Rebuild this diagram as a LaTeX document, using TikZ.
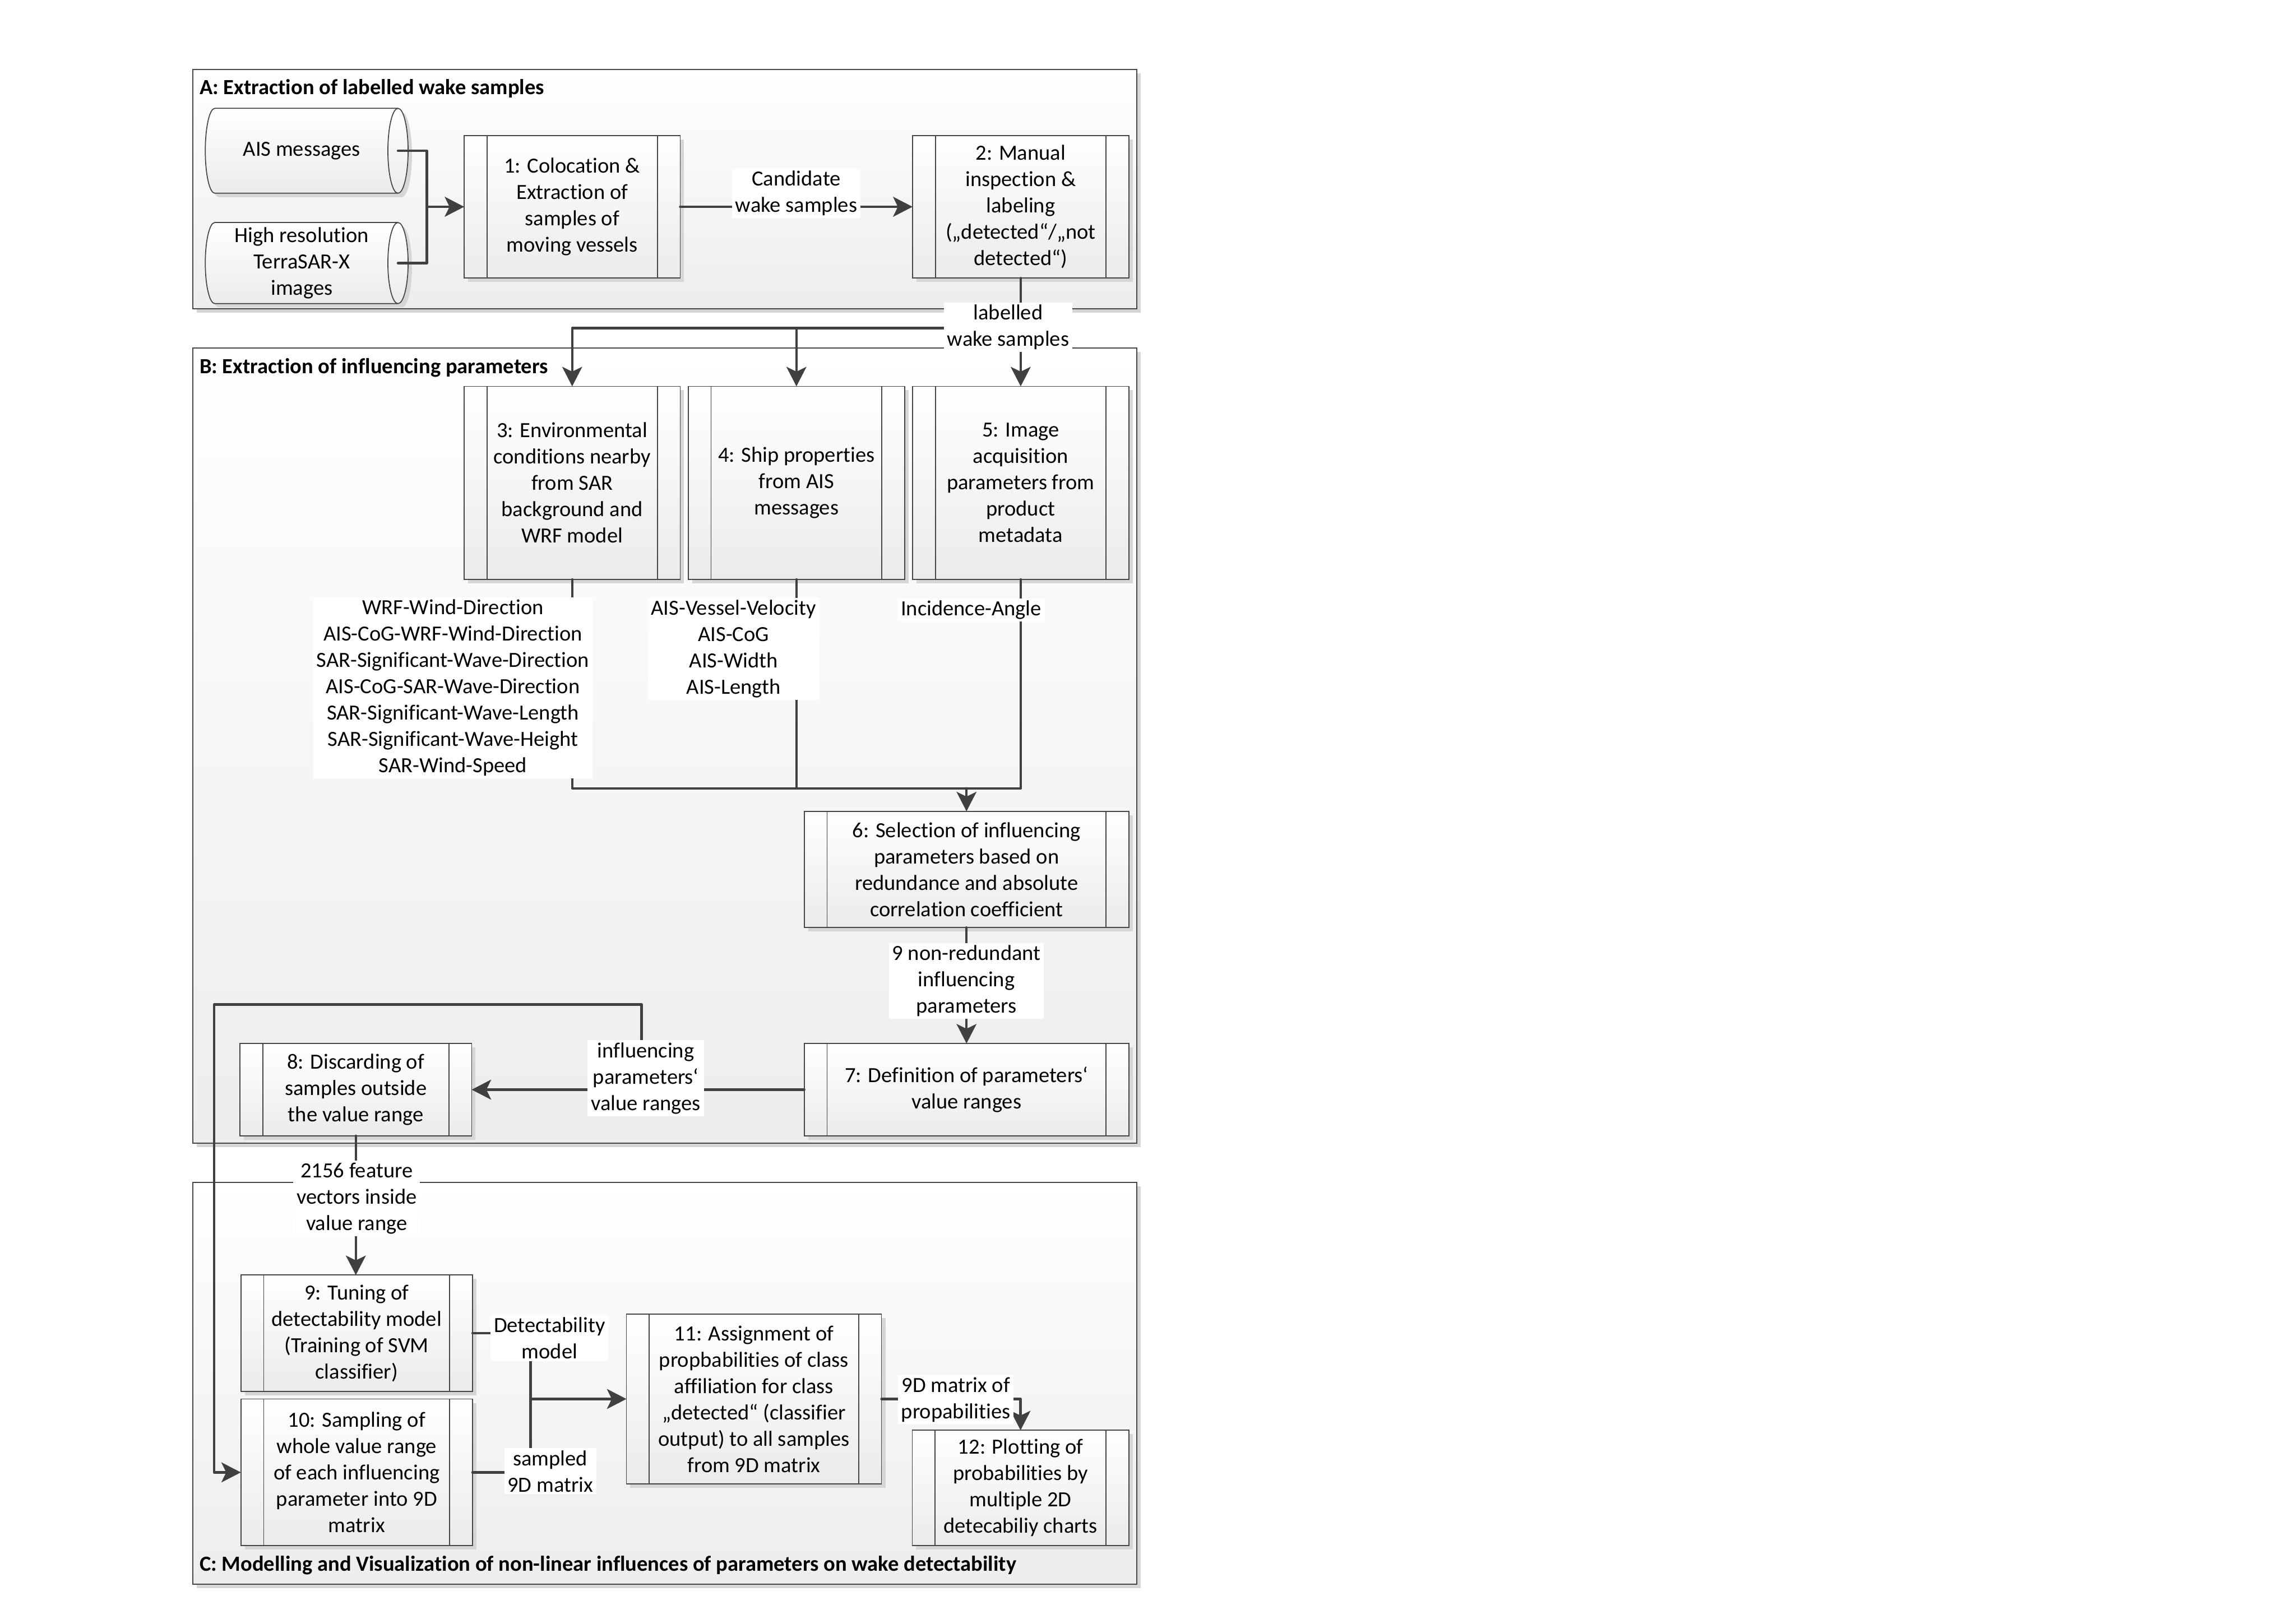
\documentclass[tikz,border=0pt]{standalone}
\usepackage{fontspec}
\setmainfont{Carlito}[Ligatures=NoCommon]
\usetikzlibrary{arrows.meta,shadows}
\definecolor{lineC}{HTML}{404040}
\definecolor{boxline}{HTML}{454545}
\definecolor{boxbot}{HTML}{EBEBEB}
\definecolor{secbot}{HTML}{EDEDED}
\definecolor{shadowC}{HTML}{D6D6D6}
\newcommand\pxu{0.678pt}
\begin{document}
\begin{tikzpicture}[x=0.678pt,y=-0.678pt,
  txt/.style={font=\fontsize{10}{12.2}\selectfont, align=center, inner sep=0pt, outer sep=0pt},
  title/.style={font=\bfseries\fontsize{10}{12.2}\selectfont, inner sep=0pt, anchor=base west},
  wh/.style 2 args={minimum width=#1*\pxu, minimum height=#2*\pxu},
  shad/.style={drop shadow={shadow xshift=1.8pt, shadow yshift=-1.8pt, fill=shadowC, opacity=1}},
  sect/.style={shad, draw=boxline, line width=0.5pt, top color=white, bottom color=secbot, inner sep=0pt, outer sep=0pt},
  proc/.style={txt, shad, draw=boxline, line width=0.45pt, top color=white, bottom color=boxbot,
    path picture={\draw[boxline, line width=0.45pt]
      ([xshift=10.58pt]path picture bounding box.north west) -- ([xshift=10.58pt]path picture bounding box.south west)
      ([xshift=-10.58pt]path picture bounding box.north east) -- ([xshift=-10.58pt]path picture bounding box.south east);}},
  cyl/.style={shad, draw=boxline, line width=0.45pt, top color=white, bottom color=boxbot},
  conn/.style={draw=lineC, line width=1.15pt, line cap=round, line join=round},
  arr/.style={conn, -{Stealth[length=9pt, width=9.2pt, inset=2.2pt]}},
  lab/.style={txt, fill=white, inner xsep=1.5pt, inner ysep=1pt}
]
\fill[white] (0,0) rectangle (1568,1109);
\useasboundingbox (0,0) rectangle (1568,1109);

% sections
\node[sect, wh={644.5}{163.4}] (secA) at (454.05,129.3) {};
\node[sect, wh={644.5}{543.4}] (secB) at (454.05,509.3) {};
\node[sect, wh={644.5}{274.5}] (secC) at (454.05,945.05) {};
\node[title] (tA) at (136,64.5) {A: Extraction of labelled wake samples};
\node[title] (tB) at (136,255) {B: Extraction of influencing parameters};
\node[title] (tC) at (136,1073.3) {C: Modelling and Visualization of non-linear influences of parameters on wake detectability};

% cylinders
\path[cyl] (146.7,74) -- (271.8,74) arc[start angle=-90,end angle=90,x radius=6.9,y radius=29]
  -- (146.7,132) arc[start angle=90,end angle=270,x radius=6.5,y radius=29] -- cycle;
\draw[boxline, line width=0.45pt] (271.8,132) arc[start angle=90,end angle=270,x radius=6.9,y radius=29];
\path[cyl] (146.7,152) -- (271.8,152) arc[start angle=-90,end angle=90,x radius=6.9,y radius=27.7]
  -- (146.7,207.4) arc[start angle=90,end angle=270,x radius=6.5,y radius=27.7] -- cycle;
\draw[boxline, line width=0.45pt] (271.8,207.4) arc[start angle=90,end angle=270,x radius=6.9,y radius=27.7];
\node[txt, wh={131.5}{58}] (cylA) at (206.05,103) {AIS messages};
\node[txt, wh={131.5}{55.4}] (cylB) at (206.05,179.7) {High resolution\\TerraSAR-X\\images};

% process boxes
\node[proc, wh={147.5}{97.5}] (b1) at (390.75,141.25) {1: Colocation \&\\Extraction of\\samples of\\moving vessels};
\node[proc, wh={147.7}{97.5}] (b2) at (697.05,141.25) {2: Manual\\inspection \&\\labeling\\(„detected“/„not\\detected“)};
\node[proc, wh={147.5}{131.9}] (b3) at (390.75,329.85) {3: Environmental\\conditions nearby\\from SAR\\background and\\WRF model};
\node[proc, wh={147.8}{131.9}] (b4) at (543.9,329.85) {4: Ship properties\\from AIS\\messages};
\node[proc, wh={147.7}{131.9}] (b5) at (697.05,329.85) {5: Image\\acquisition\\parameters from\\product\\metadata};
\node[proc, wh={221.7}{79.4}] (b6) at (660.05,593.9) {6: Selection of influencing\\parameters based on\\redundance and absolute\\correlation coefficient};
\node[proc, wh={221.7}{63.1}] (b7) at (660.05,744.35) {7: Definition of parameters‘\\value ranges};
\node[proc, wh={158.2}{63.1}] (b8) at (243,744.35) {8: Discarding of\\samples outside\\the value range};
\node[proc, wh={158.2}{79.4}] (b9) at (243.6,910.7) {9: Tuning of\\detectability model\\(Training of SVM\\classifier)};
\node[proc, wh={158.2}{100.2}] (b10) at (243.6,1005.8) {10: Sampling of\\whole value range\\of each influencing\\parameter into 9D\\matrix};
\node[proc, wh={174.2}{116.1}] (b11) at (514.9,955.65) {11: Assignment of\\propbabilities of class\\affiliation for class\\„detected“ (classifier\\output) to all samples\\from 9D matrix};
\node[proc, wh={147.9}{78.8}] (b12) at (696.95,1016.4) {12: Plotting of\\probabilities by\\multiple 2D\\detecabiliy charts};

% connectors
\coordinate (cj) at (291.5,141.25);
\draw[conn] (cylA.east) -| (cj);
\draw[conn] (cylB.east) -| (cj);
\draw[arr] (cj) -- (b1.west);
\draw[arr] (b1.east) -- (b2.west);

\coordinate (split) at (696.7,224.1);
\draw[arr] (b2.south) -- (b5.north);
\draw[arr] (split) -| (b3.north);
\draw[arr] (b4.north |- split) -- (b4.north);

\coordinate (join) at (660.05,538.5);
\draw[conn] (b3.south) |- (join);
\draw[conn] (b5.south) |- (join);
\draw[conn] (b4.south) -- (b4.south |- join);
\draw[arr] (join) -- (b6.north);

\draw[arr] (b6.south) -- (b7.north);
\draw[arr] (b7.west) -- (b8.east);
\coordinate (fb) at (438.2,712);
\draw[arr] (fb) -- (438.2,686.1) -- (146.3,686.1) |- (b10.west);
\draw[arr] (b8.south) -- (b8.south |- b9.north);

\coordinate (mj) at (362.3,955.65);
\draw[conn] (b9.east) -| (mj);
\draw[conn] (b10.east) -| (mj);
\draw[arr] (mj) -- (b11.west);
\draw[arr] (b11.east) -| (b12.north);

% connector labels
\node[lab] (lCand) at (543.8,132) {Candidate\\wake samples};
\node[lab] (lLab) at (688.5,223.5) {labelled\\wake samples};
\node[lab] (lEnv) at (309.3,469.8) {WRF-Wind-Direction\\AIS-CoG-WRF-Wind-Direction\\SAR-Significant-Wave-Direction\\AIS-CoG-SAR-Wave-Direction\\SAR-Significant-Wave-Length\\SAR-Significant-Wave-Height\\SAR-Wind-Speed};
\node[lab] (lShip) at (501,443.3) {AIS-Vessel-Velocity\\AIS-CoG\\AIS-Width\\AIS-Length};
\node[lab] (lInc) at (663.2,416.8) {Incidence-Angle};
\node[lab] (lNine) at (660,670) {9 non-redundant\\influencing\\parameters};
\node[lab] (lInfl) at (441,736.5) {influencing\\parameters‘\\value ranges};
\node[lab] (lFeat) at (243.6,818.5) {2156 feature\\vectors inside\\value range};
\node[lab] (lDet) at (375.3,914) {Detectability\\model};
\node[lab] (lSamp) at (375.8,1005) {sampled\\9D matrix};
\node[lab] (l9D) at (652.8,956) {9D matrix of\\propabilities};
\end{tikzpicture}
\end{document}
